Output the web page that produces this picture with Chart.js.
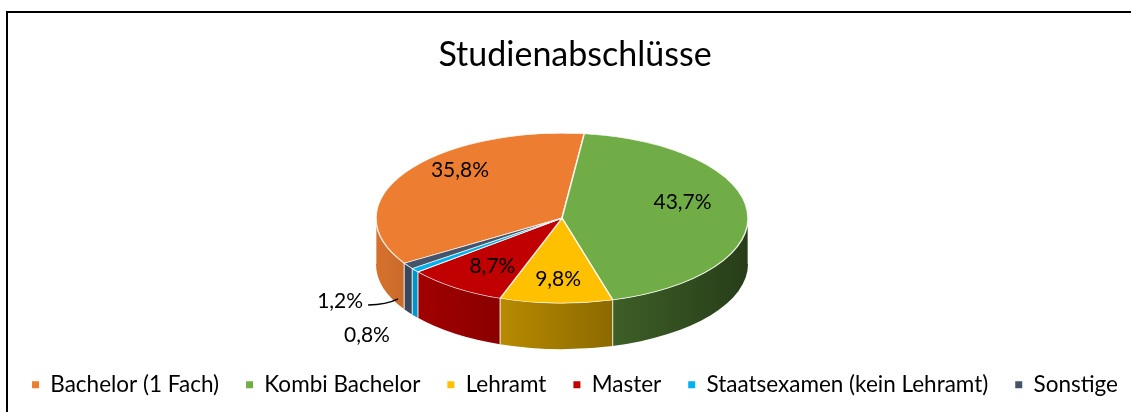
<!DOCTYPE html>
<html>
<head>
<meta charset="utf-8">
<script src="https://cdn.jsdelivr.net/npm/chart.js@4.4.0/dist/chart.umd.min.js"></script>
<style>
  html, body { margin: 0; padding: 0; background: #fff; overflow: hidden; }
  canvas { display: block; }
</style>
</head>
<body>
<canvas id="chart" width="1150" height="412"></canvas>
<script>
const categories = ['Bachelor (1 Fach)', 'Kombi Bachelor', 'Lehramt', 'Master', 'Staatsexamen (kein Lehramt)', 'Sonstige'];
const shares = [35.8, 43.7, 9.8, 8.7, 0.8, 1.2];
const sliceColors = ['#ED7D31', '#70AD47', '#FFC000', '#C00000', '#00B0F0', '#44546A'];

const TILT = 0.457;   // vertical squash of the pie
const DEPTH = 46;     // height of the side wall

const fmt = v => v.toFixed(1).replace('.', ',') + '%';

function shade(hex, f) {
  const n = parseInt(hex.slice(1), 16);
  const r = Math.round(((n >> 16) & 255) * f);
  const g = Math.round(((n >> 8) & 255) * f);
  const b = Math.round((n & 255) * f);
  return `rgb(${r},${g},${b})`;
}

function pieFrame(chart, opts) {
  const arcs = chart.getDatasetMeta(0).data;
  const { x, y, outerRadius } = arcs[0].getProps(['x', 'y', 'outerRadius'], true);
  return { arcs, x, y, r: outerRadius, cx: x + opts.shiftX, cy: y + opts.shiftY };
}

const pie3d = {
  id: 'pie3d',
  beforeDraw(chart) {
    const { ctx, width, height } = chart;
    ctx.save();
    ctx.fillStyle = '#fff';
    ctx.fillRect(0, 0, width, height);
    ctx.strokeStyle = '#000';
    ctx.lineWidth = 2;
    ctx.strokeRect(7, 12, width + 40, height + 40);
    ctx.restore();
  },
  beforeDatasetsDraw(chart, args, opts) {
    const ctx = chart.ctx;
    const { arcs, x, y, r, cx, cy } = pieFrame(chart, opts);
    const light = px => opts.lightLeft + (opts.lightRight - opts.lightLeft) * (px - (cx - r)) / (2 * r);
    ctx.save();
    // side walls on the front half
    arcs.forEach((arc, i) => {
      const { startAngle, endAngle } = arc.getProps(['startAngle', 'endAngle'], true);
      for (let k = -2; k <= 2; k++) {
        const s = Math.max(startAngle, k * 2 * Math.PI);
        const e = Math.min(endAngle, k * 2 * Math.PI + Math.PI);
        if (e <= s) continue;
        const xs = cx + r * Math.cos(s), ys = cy + r * TILT * Math.sin(s);
        const xe = cx + r * Math.cos(e), ye = cy + r * TILT * Math.sin(e);
        const grad = ctx.createLinearGradient(xe, 0, xs + 0.01, 0);
        grad.addColorStop(0, shade(sliceColors[i], light(xe)));
        grad.addColorStop(1, shade(sliceColors[i], light(xs)));
        ctx.beginPath();
        ctx.ellipse(cx, cy, r, r * TILT, 0, s, e);
        ctx.lineTo(xe, ye + DEPTH);
        ctx.ellipse(cx, cy + DEPTH, r, r * TILT, 0, e, s, true);
        ctx.closePath();
        ctx.fillStyle = grad;
        ctx.fill();
        ctx.strokeStyle = 'rgba(255,255,255,0.7)';
        ctx.lineWidth = 1;
        ctx.beginPath();
        ctx.moveTo(xs, ys); ctx.lineTo(xs, ys + DEPTH);
        ctx.moveTo(xe, ye); ctx.lineTo(xe, ye + DEPTH);
        ctx.stroke();
      }
    });
    // top face, drawn by the arc elements themselves
    ctx.translate(cx, cy);
    ctx.scale(1, TILT);
    ctx.translate(-x, -y);
    arcs.forEach(a => a.draw(ctx));
    ctx.restore();
    return false;
  },
  afterDraw(chart, args, opts) {
    const ctx = chart.ctx;
    const { arcs, r, cx, cy } = pieFrame(chart, opts);
    ctx.save();
    ctx.font = `${opts.labelSize}px Lato`;
    ctx.fillStyle = '#000';
    ctx.strokeStyle = '#000';
    ctx.textBaseline = 'middle';
    let small = 0;
    arcs.forEach((arc, i) => {
      const { startAngle, endAngle } = arc.getProps(['startAngle', 'endAngle'], true);
      const m = (startAngle + endAngle) / 2;
      const text = fmt(shares[i]);
      if (shares[i] >= 2) {
        ctx.textAlign = 'center';
        ctx.fillText(text, cx + r * opts.labelRadiusX * Math.cos(m),
          cy + r * opts.labelRadiusY * TILT * Math.sin(m) + opts.labelDy);
        return;
      }
      const ex = cx + r * Math.cos(m), ey = cy + r * TILT * Math.sin(m);
      if (small++ === 0) {
        ctx.textAlign = 'center';
        ctx.fillText(text, ex - 48, ey + 65);
      } else {
        ctx.textAlign = 'right';
        ctx.fillText(text, ex - 45, ey + 35);
        ctx.lineWidth = 1.5;
        ctx.beginPath();
        ctx.moveTo(ex - 40, ey + 39);
        ctx.quadraticCurveTo(ex - 22, ey + 39, ex - 10, ey + 33);
        ctx.stroke();
      }
    });
    ctx.restore();
  }
};

Chart.defaults.font.family = 'Lato';
Chart.defaults.color = '#000';

new Chart(document.getElementById('chart'), {
  type: 'pie',
  data: {
    labels: categories,
    datasets: [{
      data: shares,
      backgroundColor: sliceColors,
      borderColor: 'rgba(255,255,255,0.85)',
      borderWidth: 1.5
    }]
  },
  plugins: [pie3d],
  options: {
    responsive: false,
    animation: false,
    devicePixelRatio: 1,
    rotation: -122,
    radius: 186,
    layout: { padding: { left: 0, right: 0, top: 0, bottom: 6 } },
    plugins: {
      tooltip: { enabled: false },
      title: {
        display: true,
        text: 'Studienabschlüsse',
        color: '#000',
        font: { size: 34, weight: 'normal' },
        padding: { top: 35, bottom: 10 }
      },
      legend: {
        position: 'bottom',
        labels: {
          boxWidth: 7,
          boxHeight: 7,
          padding: 27,
          color: '#000',
          font: { size: 22.5 },
          generateLabels(chart) {
            const items = Chart.overrides.pie.plugins.legend.labels.generateLabels(chart);
            items.forEach(it => { it.lineWidth = 0; it.strokeStyle = it.fillStyle; });
            return items;
          }
        }
      },
      pie3d: {
        shiftX: -13,
        shiftY: 2,
        lightLeft: 0.9,
        lightRight: 0.35,
        labelSize: 21,
        labelRadiusX: 0.65,
        labelRadiusY: 0.84,
        labelDy: -10
      }
    }
  }
});
</script>
</body>
</html>
